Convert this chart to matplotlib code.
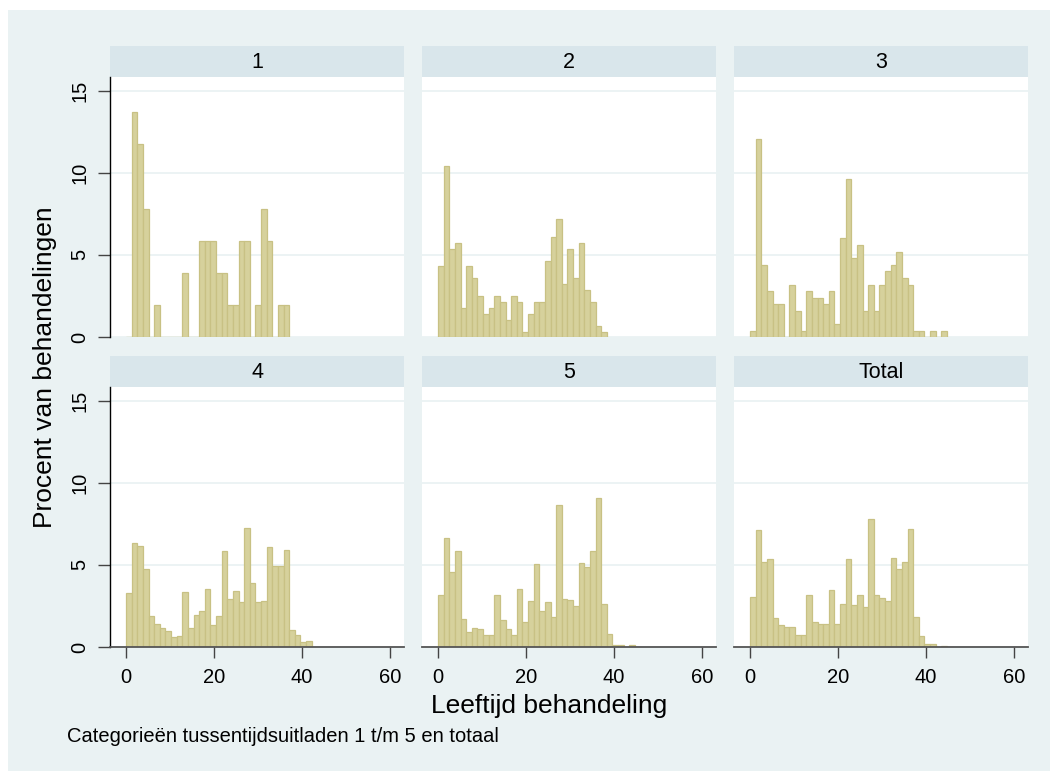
import numpy as np
import matplotlib.pyplot as plt

plt.rcParams['font.family'] = ['Liberation Sans', 'DejaVu Sans']

# histogram bins (Stata: start 0, width ~1.28)
bin_width = 1.28

panel_titles = ["1", "2", "3", "4", "5", "Total"]

pct_1 = [0, 13.68, 11.74, 7.8, 0, 1.95, 0, 0, 0, 0, 3.9, 0, 0, 5.84, 5.84, 5.84,
         3.9, 3.9, 1.95, 1.95, 5.84, 5.84, 0, 1.95, 7.8, 5.84, 0, 1.95, 1.95]
pct_2 = [4.32, 10.4, 5.35, 5.72, 1.76, 4.32, 3.59, 2.49, 1.40, 1.76, 2.49, 2.13,
         1.03, 2.49, 2.13, 0.30, 1.40, 2.13, 2.13, 4.64, 6.08, 7.18, 3.22, 5.35,
         3.59, 5.72, 2.86, 2.13, 0.67, 0.30]
pct_3 = [0.36, 12.04, 4.38, 2.80, 2.01, 2.01, 0, 3.16, 1.58, 0.36, 2.80, 2.37,
         2.37, 2.01, 2.80, 0.79, 6.02, 9.61, 4.80, 5.60, 1.58, 3.16, 1.58, 3.16,
         4.01, 4.38, 5.17, 3.59, 3.16, 0.36, 0.36, 0, 0.36, 0, 0.36]
pct_4 = [3.30, 6.34, 6.16, 4.76, 1.91, 1.42, 1.18, 0.99, 0.63, 0.69, 3.37, 1.18,
         1.97, 2.21, 3.55, 1.36, 1.91, 5.86, 2.94, 3.43, 2.76, 7.26, 3.91, 2.76,
         2.82, 6.10, 4.95, 4.95, 5.92, 1.05, 0.75, 0.32, 0.39]
pct_5 = [3.18, 6.65, 4.58, 5.86, 1.72, 0.93, 1.18, 1.11, 0.75, 0.75, 3.18, 1.66,
         1.11, 0.75, 3.55, 1.54, 2.82, 5.07, 2.21, 2.76, 1.84, 8.66, 2.94, 2.88,
         2.51, 5.13, 4.89, 5.86, 9.08, 2.64, 0.81, 0.14, 0.14, 0, 0.14, 0.03]
pct_total = [3.06, 7.14, 5.19, 5.37, 1.78, 1.36, 1.24, 1.24, 0.75, 0.75, 3.18,
             1.54, 1.42, 1.42, 3.49, 1.42, 2.64, 5.37, 2.57, 3.18, 2.45, 7.80,
             3.18, 3.00, 2.82, 5.43, 4.76, 5.19, 7.20, 1.84, 0.69, 0.20, 0.20, 0,
             0.08, 0.03]
panel_data = [pct_1, pct_2, pct_3, pct_4, pct_5, pct_total]

x_ticks = [0, 20, 40, 60]
y_ticks = [0, 5, 10, 15]

W, H = 1050, 771
bg = '#EAF2F3'
strip_col = '#D9E6EB'
bar_fill = '#D6D19C'
bar_edge = '#C8C184'

fig = plt.figure(figsize=(W / 100, H / 100), dpi=100)
fig.patch.set_facecolor('white')
fig.patches.append(plt.Rectangle((8 / W, 0), 1 - 8 / W, 1 - 10 / H,
                                 transform=fig.transFigure, facecolor=bg,
                                 edgecolor='none', zorder=-10))


def px_axes(x0, y0, x1, y1):
    return fig.add_axes([x0 / W, 1 - y1 / H, (x1 - x0) / W, (y1 - y0) / H])


col_x = [110, 422, 734]
panel_w = 294
row_strip = [46, 356]
strip_h = 31
plot_h = 260

for i, (title, vals) in enumerate(zip(panel_titles, panel_data)):
    r, c = divmod(i, 3)
    x0 = col_x[c]
    ys = row_strip[r]
    # strip
    sax = px_axes(x0, ys, x0 + panel_w, ys + strip_h)
    sax.set_facecolor(strip_col)
    sax.set_xticks([])
    sax.set_yticks([])
    for s in sax.spines.values():
        s.set_visible(False)
    sax.text(0.5, 0.47, title, ha='center', va='center', fontsize=15.5,
             transform=sax.transAxes)

    ax = px_axes(x0, ys + strip_h, x0 + panel_w, ys + strip_h + plot_h)
    ax.set_facecolor('white')
    edges = np.arange(len(vals)) * bin_width
    ax.bar(edges, vals, width=bin_width, align='edge', color=bar_fill,
           edgecolor=bar_edge, linewidth=0.9, zorder=2)
    ax.set_xlim(-3.64, 63.25)
    ax.set_ylim(0, 15.83)
    for yv in y_ticks:
        ax.axhline(yv, color=bg, linewidth=1.3, zorder=1)
    for s in ['top', 'right']:
        ax.spines[s].set_visible(False)
    ax.spines['left'].set_visible(c == 0)
    ax.spines['left'].set_color('black')
    ax.spines['left'].set_linewidth(1.0)
    ax.spines['bottom'].set_visible(r == 1)
    ax.spines['bottom'].set_color('#555555')
    ax.spines['bottom'].set_linewidth(1.3)

    if c == 0:
        ax.set_yticks(y_ticks)
        ax.set_yticklabels([str(v) for v in y_ticks], rotation=90, va='center',
                           fontsize=14.5)
        ax.tick_params(axis='y', length=9, width=1, color='#444444', pad=6)
    else:
        ax.set_yticks([])
    if r == 1:
        ax.set_xticks(x_ticks)
        ax.set_xticklabels([str(v) for v in x_ticks], fontsize=14.5)
        ax.tick_params(axis='x', length=8, width=1, color='#444444', pad=7)
    else:
        ax.set_xticks([])

fig.text(45 / W, 1 - 367 / H, 'Procent van behandelingen', rotation=90,
         ha='center', va='center', fontsize=19)
fig.text(549 / W, 1 - 706 / H, 'Leeftijd behandeling', ha='center',
         va='center', fontsize=19)
fig.text(67 / W, 1 - 736 / H, 'Categorieën tussentijdsuitladen 1 t/m 5 en totaal',
         ha='left', va='center', fontsize=14.5)

fig.savefig('out.png', dpi=100, facecolor=fig.get_facecolor())
